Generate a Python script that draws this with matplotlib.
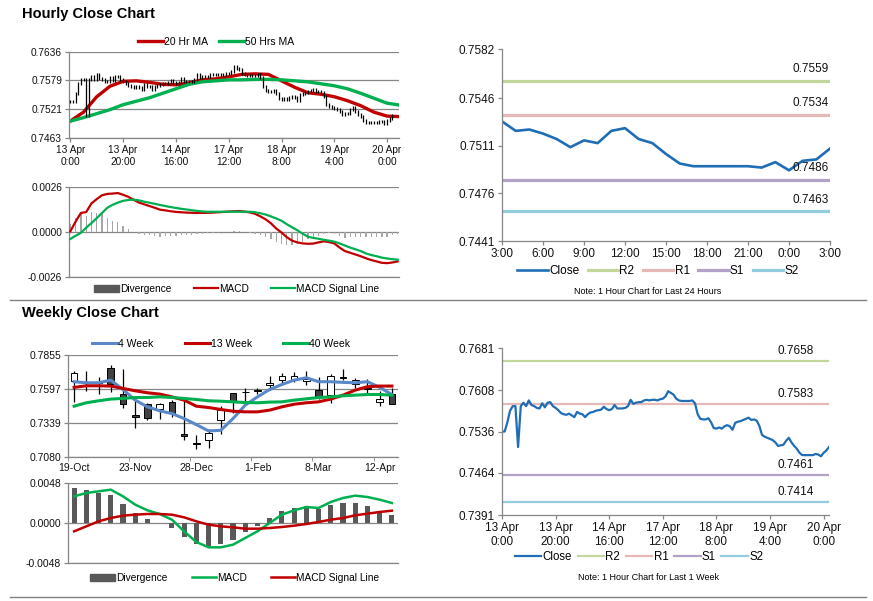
import numpy as np
import matplotlib
matplotlib.use('Agg')
import matplotlib.pyplot as plt
from matplotlib.lines import Line2D
from matplotlib.patches import Patch

plt.rcParams['font.family'] = ['Liberation Sans', 'DejaVu Sans']

# hourly closes, 13 Apr 0:00 -> 20 Apr ~2:00
hourly_close = [0.7536, 0.7536, 0.7552, 0.7572, 0.7580, 0.7580, 0.7509, 0.7580, 0.7586, 0.7580,
                0.7590, 0.7582, 0.7580, 0.7577, 0.7576, 0.7585, 0.7578, 0.7586, 0.7587, 0.7580,
                0.7577, 0.7573, 0.7568, 0.7566, 0.7565, 0.7567, 0.7564, 0.7561, 0.7570, 0.7567,
                0.7566, 0.7561, 0.7566, 0.7569, 0.7570, 0.7572, 0.7573, 0.7574, 0.7579, 0.7575,
                0.7573, 0.7575, 0.7582, 0.7576, 0.7576, 0.7576, 0.7577, 0.7580, 0.7591, 0.7584,
                0.7586, 0.7587, 0.7587, 0.7590, 0.7591, 0.7590, 0.7591, 0.7591, 0.7590, 0.7592,
                0.7593, 0.7597, 0.7606, 0.7603, 0.7600, 0.7593, 0.7590, 0.7589, 0.7589, 0.7589,
                0.7589, 0.7590, 0.7585, 0.7566, 0.7558, 0.7557, 0.7557, 0.7559, 0.7552, 0.7542,
                0.7541, 0.7543, 0.7541, 0.7545, 0.7547, 0.7545, 0.7539, 0.7551, 0.7553, 0.7554,
                0.7556, 0.7558, 0.7560, 0.7556, 0.7557, 0.7555, 0.7546, 0.7530, 0.7527, 0.7525,
                0.7523, 0.7521, 0.7517, 0.7511, 0.7512, 0.7513, 0.7520, 0.7525, 0.7517, 0.7511,
                0.7506, 0.7499, 0.7495, 0.7495, 0.7495, 0.7495, 0.7495, 0.7497, 0.7496, 0.7493,
                0.7499, 0.7503, 0.7509]
hourly_labels = ['13 Apr\n0:00', '13 Apr\n20:00', '14 Apr\n16:00', '17 Apr\n12:00',
                 '18 Apr\n8:00', '19 Apr\n4:00', '20 Apr\n0:00']

# moving averages, read every 5 hours
ma20 = [0.7497, 0.7515, 0.7546, 0.7567, 0.7577, 0.7578, 0.7575, 0.7571, 0.7570, 0.7574,
        0.7580, 0.7582, 0.7586, 0.7591, 0.7592, 0.7591, 0.7578, 0.7565, 0.7554, 0.7551,
        0.7546, 0.7538, 0.7528, 0.7515, 0.7507, 0.7506]
ma50 = [0.7497, 0.7504, 0.7512, 0.7520, 0.7530, 0.7537, 0.7544, 0.7553, 0.7562, 0.7571,
        0.7576, 0.7578, 0.7580, 0.7580, 0.7581, 0.7581, 0.7580, 0.7578, 0.7576, 0.7572,
        0.7568, 0.7562, 0.7553, 0.7543, 0.7533, 0.7529]

# hourly MACD, read every 2 hours
macd_h = [0.00004, 0.0006, 0.0011, 0.00115, 0.00165, 0.0019, 0.00212, 0.0022, 0.00222, 0.00225,
          0.00215, 0.00203, 0.00186, 0.0017, 0.0016, 0.0015, 0.0014, 0.00129, 0.00125, 0.0012,
          0.00116, 0.00114, 0.00112, 0.00111, 0.0011, 0.0011, 0.00111, 0.00112, 0.00114, 0.00116,
          0.00118, 0.0012, 0.00121, 0.00118, 0.00113, 0.00105, 0.0009, 0.00073, 0.0005, 0.0002,
          -0.00003, -0.0003, -0.0005, -0.0006, -0.00066, -0.00068, -0.00067, -0.0006, -0.00054, -0.00058,
          -0.00066, -0.0009, -0.0011, -0.0012, -0.0013, -0.0014, -0.00152, -0.00162, -0.0017, -0.00178,
          -0.0018, -0.00176, -0.0017]
signal_h = [-0.0004, -0.00022, -0.00005, 0.00025, 0.00052, 0.0008, 0.0011, 0.0014, 0.00157, 0.0017,
            0.0018, 0.00185, 0.00187, 0.00183, 0.00175, 0.00169, 0.00163, 0.00156, 0.0015, 0.00144,
            0.00139, 0.00134, 0.0013, 0.00126, 0.00122, 0.00119, 0.00117, 0.00117, 0.00117, 0.00117,
            0.00117, 0.00117, 0.00117, 0.00117, 0.00117, 0.00114, 0.00108, 0.00101, 0.0009, 0.00078,
            0.00065, 0.00045, 0.00027, 0.0001, -0.0001, -0.00027, -0.00034, -0.00039, -0.00045, -0.0005,
            -0.00056, -0.00066, -0.00078, -0.0009, -0.001, -0.0011, -0.00124, -0.00133, -0.0014, -0.00148,
            -0.00153, -0.00157, -0.0016]

# last 24 hours
day_close = [0.7529, 0.7522, 0.7523, 0.7520, 0.7516, 0.7510, 0.7515, 0.7513, 0.7522, 0.7524,
             0.7516, 0.7513, 0.7505, 0.7498, 0.7496, 0.7496, 0.7496, 0.7496, 0.7496, 0.7495,
             0.7499, 0.7493, 0.7500, 0.7501, 0.7509]
day_labels = ['3:00', '6:00', '9:00', '12:00', '15:00', '18:00', '21:00', '0:00', '3:00']
level_names = ['R2', 'R1', 'S1', 'S2']
level_colors = ['#C3D69B', '#E6B9B8', '#B3A2C7', '#93CDDD']
day_levels = [0.7559, 0.7534, 0.7486, 0.7463]
week_levels = [0.7658, 0.7583, 0.7461, 0.7414]

# weekly candles
week_labels = ['19-Oct', '23-Nov', '28-Dec', '1-Feb', '8-Mar', '12-Apr']
week_open = [0.7659, 0.7645, 0.7640, 0.7753, 0.7555, 0.7398, 0.7479, 0.7448, 0.7494, 0.7250,
             0.7184, 0.7212, 0.7365, 0.7563, 0.7574, 0.7586, 0.7626, 0.7664, 0.7669, 0.7657,
             0.7588, 0.7555, 0.7684, 0.7639, 0.7598, 0.7499, 0.7555]
week_close = [0.7720, 0.7648, 0.7645, 0.7639, 0.7481, 0.7382, 0.7380, 0.7479, 0.7415, 0.7238,
              0.7180, 0.7263, 0.7436, 0.7507, 0.7576, 0.7590, 0.7644, 0.7697, 0.7697, 0.7672,
              0.7537, 0.7695, 0.7680, 0.7664, 0.7602, 0.7520, 0.7487]
week_high = [0.7736, 0.7733, 0.7685, 0.7779, 0.7748, 0.7504, 0.7487, 0.7492, 0.7512, 0.7517,
             0.7250, 0.7296, 0.7466, 0.7568, 0.7601, 0.7601, 0.7695, 0.7715, 0.7728, 0.7736,
             0.7685, 0.7710, 0.7746, 0.7677, 0.7672, 0.7583, 0.7601]
week_low = [0.7499, 0.7583, 0.7555, 0.7575, 0.7456, 0.7304, 0.7359, 0.7365, 0.7385, 0.7212,
            0.7144, 0.7151, 0.7258, 0.7418, 0.7499, 0.7558, 0.7588, 0.7639, 0.7652, 0.7626,
            0.7517, 0.7487, 0.7664, 0.7601, 0.7555, 0.7466, 0.7487]
ma4 = [0.7652, 0.7644, 0.7644, 0.7664, 0.7593, 0.7512, 0.7461, 0.7431, 0.7410, 0.7372,
       0.7326, 0.7278, 0.7283, 0.7372, 0.7474, 0.7537, 0.7593, 0.7631, 0.7664, 0.7682,
       0.7652, 0.7652, 0.7647, 0.7644, 0.7652, 0.7609, 0.7555]
ma13 = [0.7609, 0.7621, 0.7621, 0.7619, 0.7601, 0.7583, 0.7568, 0.7558, 0.7537, 0.7512,
        0.7466, 0.7456, 0.7441, 0.7428, 0.7423, 0.7423, 0.7436, 0.7461, 0.7481, 0.7492,
        0.7499, 0.7520, 0.7550, 0.7588, 0.7614, 0.7619, 0.7619]
ma40 = [0.7466, 0.7492, 0.7507, 0.7520, 0.7525, 0.7532, 0.7532, 0.7537, 0.7532, 0.7525,
        0.7517, 0.7507, 0.7504, 0.7499, 0.7494, 0.7492, 0.7497, 0.7499, 0.7512, 0.7522,
        0.7532, 0.7537, 0.7545, 0.7550, 0.7555, 0.7555, 0.7550]
macd_w = [0.0032, 0.0036, 0.0038, 0.0040, 0.0032, 0.0022, 0.00152, 0.00108, 0.0004, -0.001,
          -0.00228, -0.00292, -0.00292, -0.0026, -0.0018, -0.001, 0.0, 0.001, 0.00152, 0.00192,
          0.0018, 0.00252, 0.0030, 0.00328, 0.00312, 0.0028, 0.0024]
signal_w = [-0.001, -0.0004, 0.0002, 0.0006, 0.00088, 0.001, 0.00108, 0.00108, 0.001, 0.00068,
            0.0002, -0.0002, -0.0004, -0.00052, -0.00068, -0.00068, -0.0006, -0.00048, -0.00032, -0.00012,
            0.00012, 0.0004, 0.0006, 0.00092, 0.00112, 0.00132, 0.00148]

W, H = 873, 601
GRAY = '#868686'
RED = '#C00000'
GREEN = '#00B050'


def box(l, t, r, b):
    return [l / W, 1 - b / H, (r - l) / W, (b - t) / H]


def style(ax, size, grid=False):
    for s in ['top', 'right']:
        ax.spines[s].set_visible(False)
    for s in ['left', 'bottom']:
        ax.spines[s].set_color(GRAY)
        ax.spines[s].set_linewidth(0.9)
    ax.tick_params(color=GRAY, labelcolor='#111111', length=3, width=0.9, labelsize=size, pad=2)
    if grid:
        ax.yaxis.grid(True, color=GRAY, lw=0.9)
        ax.set_axisbelow(True)


def legend(ax, handles, labels, x, y, size, hl=2.4, cs=1.0):
    ax.legend(handles, labels, loc='center', bbox_to_anchor=(x / W, 1 - y / H),
              bbox_transform=fig.transFigure, ncol=len(handles), frameon=False,
              fontsize=size, handlelength=hl, handletextpad=0.1, columnspacing=cs,
              borderpad=0, borderaxespad=0)


fig = plt.figure(figsize=(W / 100, H / 100), dpi=100)

fig.text(22 / W, 1 - 14 / H, 'Hourly Close Chart', fontsize=10.5, fontweight='bold', va='center')
fig.text(22 / W, 1 - 313 / H, 'Weekly Close Chart', fontsize=10.5, fontweight='bold', va='center')
fig.add_artist(Line2D([10 / W, 866 / W], [1 - 300 / H] * 2, color='#808080', lw=1))
fig.add_artist(Line2D([10 / W, 866 / W], [1 - 597 / H] * 2, color='#808080', lw=1))

# hourly candles + MAs
ax1 = fig.add_axes(box(69, 52, 399, 138))
style(ax1, 7.3, grid=True)
hc = np.array(hourly_close)
hx = np.arange(len(hc))
ho = np.r_[hc[0], hc[:-1]]
ax1.vlines(hx, np.minimum(ho, hc) - 0.0003, np.maximum(ho, hc) + 0.0003, color='black', lw=0.9, zorder=3)
ma_x = np.arange(0, 5 * len(ma20), 5)
l20, = ax1.plot(ma_x, ma20, color=RED, lw=2.4, zorder=2)
l50, = ax1.plot(ma_x, ma50, color=GREEN, lw=2.4, zorder=2)
ax1.set_xlim(-0.5, 124.5)
ax1.set_ylim(0.7463, 0.7636)
ax1.set_yticks([0.7463, 0.7521, 0.7579, 0.7636])
ax1.set_yticklabels(['0.7463', '0.7521', '0.7579', '0.7636'])
ax1.set_xticks(np.arange(0, 121, 20))
ax1.set_xticklabels(hourly_labels, linespacing=1.2)
legend(ax1, [l20, l50], ['20 Hr MA', '50 Hrs MA'], 216, 42, 7.5)

# hourly MACD
ax2 = fig.add_axes(box(69, 187, 399, 277))
style(ax2, 7.3, grid=True)
mh = np.array(macd_h)
sh = np.array(signal_h)
mx = np.arange(0, 2 * len(mh), 2)
ax2.bar(mx, mh - sh, width=0.5, color='#A6A6A6', zorder=2)
lm, = ax2.plot(mx, mh, color=RED, lw=1.6, zorder=3)
ls, = ax2.plot(mx, sh, color=GREEN, lw=1.6, zorder=3)
ax2.set_xlim(-0.5, 124.5)
ax2.set_ylim(-0.0026, 0.0026)
ax2.set_yticks([-0.0026, 0, 0.0026])
ax2.set_yticklabels(['-0.0026', '0.0000', '0.0026'])
ax2.set_xticks([])
legend(ax2, [Patch(color='#595959'), lm, ls], ['Divergence', 'MACD', 'MACD Signal Line'],
       237, 289, 7.3, hl=2.4, cs=2.2)

# last 24 hours with levels
ax3 = fig.add_axes(box(502, 49.3, 830, 241))
style(ax3, 8.5)
handles = []
for name, c, v in zip(level_names, level_colors, day_levels):
    handles.append(ax3.axhline(v, color=c, lw=2.3))
    ax3.annotate('%.4f' % v, (24, v), xytext=(-1, 4), textcoords='offset points',
                 ha='right', va='bottom', fontsize=8.5, color='#111111')
lc, = ax3.plot(np.arange(len(day_close)), day_close, color='#1F6DB5', lw=1.9)
ax3.set_xlim(0, 24)
ax3.set_ylim(0.7441, 0.7582)
ax3.set_yticks([0.7441, 0.7476, 0.7511, 0.7546, 0.7582])
ax3.set_yticklabels(['0.7441', '0.7476', '0.7511', '0.7546', '0.7582'])
ax3.set_xticks(np.arange(0, 25, 3))
ax3.set_xticklabels(day_labels)
legend(ax3, [lc] + handles, ['Close'] + level_names, 658, 271, 8.5, hl=2.6, cs=0.7)
fig.text(648 / W, 1 - 291 / H, 'Note: 1 Hour Chart for Last 24 Hours', fontsize=6.5,
         ha='center', va='center')

# weekly candles + MAs
ax4 = fig.add_axes(box(68, 355, 398, 457))
style(ax4, 7.5, grid=True)
wx = np.arange(len(week_close))
wo = np.array(week_open)
wc = np.array(week_close)
ax4.vlines(wx, week_low, week_high, color='black', lw=0.9, zorder=3)
up = wc >= wo
ax4.bar(wx, np.abs(wc - wo) + 0.0003, bottom=np.minimum(wo, wc) - 0.00015, width=0.55,
        color=np.where(up, 'white', '#404040'), edgecolor='black', lw=0.7, zorder=4)
l4, = ax4.plot(wx, ma4, color='#5A88C8', lw=2.2, zorder=5)
l13, = ax4.plot(wx, ma13, color=RED, lw=2.2, zorder=5)
l40, = ax4.plot(wx, ma40, color=GREEN, lw=2.2, zorder=5)
ax4.set_xlim(-0.5, len(wx) - 0.5)
ax4.set_ylim(0.7080, 0.7855)
ax4.set_yticks([0.7080, 0.7339, 0.7597, 0.7855])
ax4.set_yticklabels(['0.7080', '0.7339', '0.7597', '0.7855'])
ax4.set_xticks(np.arange(0, len(wx), 5))
ax4.set_xticklabels(week_labels)
ax4.set_xticks(np.arange(-0.5, len(wx), 5), minor=True)
ax4.tick_params(axis='x', which='major', length=0, pad=4)
ax4.tick_params(axis='x', which='minor', length=3, color=GRAY)
legend(ax4, [l4, l13, l40], ['4 Week', '13 Week', '40 Week'], 221, 344, 7.5, cs=3.0)

# weekly MACD
ax5 = fig.add_axes(box(68, 483, 398, 563))
style(ax5, 7.5, grid=True)
mw = np.array(macd_w)
sw = np.array(signal_w)
ax5.bar(wx, mw - sw, width=0.42, color='#595959', zorder=2)
lm2, = ax5.plot(wx, mw, color=GREEN, lw=1.8, zorder=3)
ls2, = ax5.plot(wx, sw, color=RED, lw=1.8, zorder=3)
ax5.set_xlim(-0.5, len(wx) - 0.5)
ax5.set_ylim(-0.0048, 0.0048)
ax5.set_yticks([-0.0048, 0, 0.0048])
ax5.set_yticklabels(['-0.0048', '0.0000', '0.0048'])
ax5.set_xticks([])
legend(ax5, [Patch(color='#595959'), lm2, ls2], ['Divergence', 'MACD', 'MACD Signal Line'],
       235, 578, 7.3, hl=2.4, cs=2.4)

# last week hourly with levels
ax6 = fig.add_axes(box(502, 348, 829, 515))
style(ax6, 8.5)
handles = []
for name, c, v in zip(level_names, level_colors, week_levels):
    handles.append(ax6.axhline(v, color=c, lw=1.6))
    ax6.annotate('%.4f' % v, (109.5, v), xytext=(0, 3), textcoords='offset points',
                 ha='center', va='bottom', fontsize=8.5, color='#111111')
lc2, = ax6.plot(hx, hc, color='#1F6DB5', lw=1.6)
ax6.set_xlim(0, len(hc) - 1)
ax6.set_ylim(0.7391, 0.7681)
ax6.set_yticks([0.7391, 0.7464, 0.7536, 0.7608, 0.7681])
ax6.set_yticklabels(['0.7391', '0.7464', '0.7536', '0.7608', '0.7681'])
ax6.set_xticks(np.arange(0, 121, 20))
ax6.set_xticklabels(hourly_labels, linespacing=1.2)
legend(ax6, [lc2] + handles, ['Close'] + level_names, 639, 557, 8.3, hl=2.3, cs=0.5)
fig.text(648 / W, 1 - 578 / H, 'Note: 1 Hour Chart for Last 1 Week', fontsize=6.5,
         ha='center', va='center')

fig.savefig('out.png', dpi=100)
